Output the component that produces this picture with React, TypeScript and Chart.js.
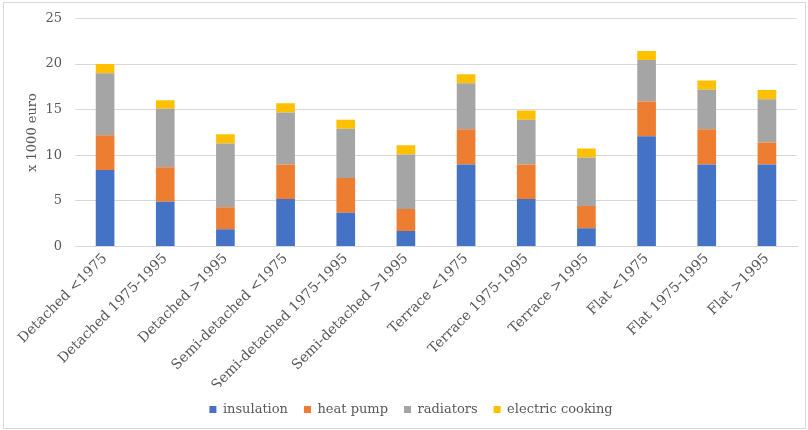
import React, { useEffect, useRef } from "react";
import { Chart, registerables } from "chart.js";

Chart.register(...registerables);

const categories = [
  "Detached <1975",
  "Detached 1975-1995",
  "Detached >1995",
  "Semi-detached <1975",
  "Semi-detached 1975-1995",
  "Semi-detached >1995",
  "Terrace <1975",
  "Terrace 1975-1995",
  "Terrace >1995",
  "Flat <1975",
  "Flat 1975-1995",
  "Flat >1995",
];

const insulation = [8.4, 4.9, 1.9, 5.2, 3.7, 1.7, 9.0, 5.2, 2.0, 12.1, 9.0, 9.0];
const heatPump = [3.8, 3.8, 2.4, 3.8, 3.8, 2.4, 3.85, 3.8, 2.45, 3.8, 3.85, 2.4];
const radiators = [6.8, 6.4, 7.0, 5.7, 5.4, 6.0, 5.05, 4.9, 5.3, 4.55, 4.35, 4.75];
const electricCooking = [1.0, 0.95, 1.0, 1.0, 1.0, 1.0, 1.0, 1.0, 1.0, 1.0, 1.0, 1.0];

const yTicks = [0, 5, 10, 15, 20, 25];

const FONT = "'DejaVu Serif', 'Liberation Serif', serif";

export default function App() {
  const canvasRef = useRef<HTMLCanvasElement | null>(null);

  useEffect(() => {
    document.body.style.margin = "0";
    const canvas = canvasRef.current;
    if (!canvas) return;
    const mk = (label: string, data: number[], color: string) => ({
      label,
      data,
      backgroundColor: color,
      borderWidth: 0,
      barPercentage: 0.62,
      categoryPercentage: 0.5,
    });
    const chart = new Chart(canvas, {
      type: "bar",
      data: {
        labels: categories,
        datasets: [
          mk("insulation", insulation, "#4472C4"),
          mk("heat pump", heatPump, "#ED7D31"),
          mk("radiators", radiators, "#A5A5A5"),
          mk("electric cooking", electricCooking, "#FFC000"),
        ],
      },
      options: {
        animation: false,
        responsive: false,
        maintainAspectRatio: false,
        layout: { padding: { top: 0, right: 8, left: 21, bottom: 2 } },
        plugins: {
          tooltip: { enabled: false },
          legend: {
            position: "bottom",
            labels: {
              boxWidth: 7,
              boxHeight: 7,
              padding: 16,
              color: "#595959",
              font: { family: FONT, size: 13 },
            },
          },
        },
        scales: {
          x: {
            stacked: true,
            grid: { display: false, drawTicks: false },
            border: { color: "#d9d9d9", width: 1 },
            afterFit: (axis: any) => {
              axis.height = axis.height - 11;
            },
            ticks: {
              minRotation: 45,
              maxRotation: 45,
              color: "#595959",
              padding: 4,
              font: { family: FONT, size: 14 },
            },
          },
          y: {
            stacked: true,
            min: 0,
            max: 25,
            afterBuildTicks: (axis: any) => {
              axis.ticks = yTicks.map((v) => ({ value: v }));
            },
            afterFit: (axis: any) => {
              axis.width = 50;
              axis.paddingTop = 15.5;
            },
            grid: { color: "#d9d9d9", lineWidth: 1, drawTicks: false },
            border: { display: false },
            title: {
              display: true,
              text: "x 1000 euro",
              color: "#595959",
              font: { family: FONT, size: 13 },
              padding: { top: 0, bottom: 0 },
            },
            ticks: {
              color: "#595959",
              padding: 13,
              font: { family: FONT, size: 13 },
            },
          },
        },
      },
    });
    return () => chart.destroy();
  }, []);

  return (
    <div
      style={{
        position: "absolute",
        left: 3,
        top: 2,
        width: 801,
        height: 425,
        border: "1px solid #d9d9d9",
        background: "#fff",
      }}
    >
      <canvas ref={canvasRef} width={801} height={425} style={{ display: "block" }} />
    </div>
  );
}
